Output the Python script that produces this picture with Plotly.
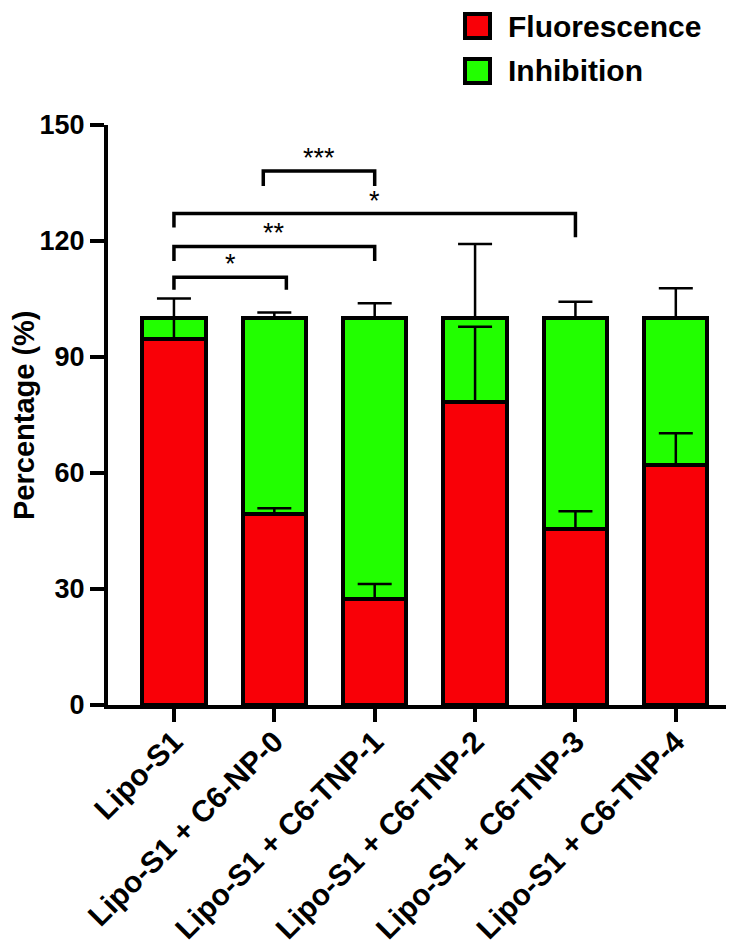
import plotly.graph_objects as go

# ---------------- data ----------------
categories = ["Lipo-S1", "Lipo-S1 + C6-NP-0", "Lipo-S1 + C6-TNP-1",
              "Lipo-S1 + C6-TNP-2", "Lipo-S1 + C6-TNP-3", "Lipo-S1 + C6-TNP-4"]
fluorescence = [94.7, 49.5, 27.5, 78.4, 45.5, 62.1]
fluorescence_sd = [5.6, 1.4, 3.8, 19.4, 4.6, 8.2]
inhibition = [5.3, 50.5, 72.5, 21.6, 54.5, 37.9]
inhibition_sd = [5.1, 1.5, 3.9, 19.2, 4.3, 7.8]
y_ticks = [0, 30, 60, 90, 120, 150]

# significance brackets: start group, end group, bar height, left leg end, right leg end, label
bracket_x0 = [0, 0, 0, 0.89]
bracket_x1 = [1.12, 2, 4, 2]
bracket_y = [110.6, 118.6, 127.1, 138.1]
bracket_left_end = [107.4, 114.8, 123.5, 134.2]
bracket_right_end = [107.4, 114.8, 121.0, 134.2]
bracket_label = ["*", "**", "*", "***"]

# ---------------- layout constants ----------------
W, H = 738, 944
ML, MR, MT, MB = 100, 20, 117, 247
PW, PH = W - ML - MR, H - MT - MB
FONT = "Liberation Sans, Arial, sans-serif"
RED = "#F90007"
GREEN = "#22FF00"


def px_x(px):
    return (px - ML) / PW


def px_y(py):
    return (H - MB - py) / PH


idx = list(range(len(categories)))
stack_top = [f + i for f, i in zip(fluorescence, inhibition)]

fig = go.Figure()
fig.add_trace(go.Bar(x=idx, y=fluorescence, name="Fluorescence", width=0.63,
                     marker=dict(color=RED, line=dict(color="black", width=4)),
                     showlegend=False))
fig.add_trace(go.Bar(x=idx, y=inhibition, name="Inhibition", width=0.63,
                     marker=dict(color=GREEN, line=dict(color="black", width=4)),
                     showlegend=False))

# error bars (upper only), drawn above the bars
fig.add_trace(go.Scatter(x=idx, y=fluorescence, mode="markers",
                         marker=dict(size=1, color="rgba(0,0,0,0)"),
                         error_y=dict(type="data", array=fluorescence_sd,
                                      arrayminus=[0] * len(idx), symmetric=False,
                                      color="black", thickness=2.5, width=17),
                         showlegend=False, hoverinfo="skip"))
fig.add_trace(go.Scatter(x=idx, y=stack_top, mode="markers",
                         marker=dict(size=1, color="rgba(0,0,0,0)"),
                         error_y=dict(type="data", array=inhibition_sd,
                                      arrayminus=[0] * len(idx), symmetric=False,
                                      color="black", thickness=2.5, width=17),
                         showlegend=False, hoverinfo="skip"))

# significance brackets
for x0, x1, yb, yl, yr, lab in zip(bracket_x0, bracket_x1, bracket_y,
                                   bracket_left_end, bracket_right_end, bracket_label):
    fig.add_trace(go.Scatter(x=[x0, x0, x1, x1], y=[yl, yb, yb, yr], mode="lines",
                             line=dict(color="black", width=3.5),
                             showlegend=False, hoverinfo="skip"))
    fig.add_annotation(x=(x0 + x1) / 2, y=yb, text=lab, showarrow=False,
                       yanchor="bottom", yshift=-4,
                       font=dict(family=FONT, size=27, color="black"))

# manual legend
legend_items = [("Fluorescence", RED, 4, 32), ("Inhibition", GREEN, 49, 77)]
for name, col, top, bot in legend_items:
    fig.add_shape(type="rect", xref="paper", yref="paper",
                  x0=px_x(457), x1=px_x(482), y0=px_y(bot - 2), y1=px_y(top + 2),
                  fillcolor=col, line=dict(color="black", width=4))
    fig.add_annotation(xref="paper", yref="paper", x=px_x(498), y=px_y((top + bot) / 2),
                       text=name, showarrow=False, xanchor="left", yanchor="middle",
                       font=dict(family=FONT, size=30, color="black", weight="bold"))

# y axis title
fig.add_annotation(xref="paper", yref="paper", x=px_x(16), y=0.5,
                   text="Percentage (%)", textangle=-90, showarrow=False,
                   xanchor="center", yanchor="middle",
                   font=dict(family=FONT, size=29, color="black", weight="bold"))

fig.update_layout(
    width=W, height=H, barmode="stack",
    margin=dict(l=ML, r=MR, t=MT, b=MB, autoexpand=False),
    paper_bgcolor="white", plot_bgcolor="white",
    showlegend=False,
    xaxis=dict(range=[-0.657, 5.5], tickvals=idx, ticktext=categories,
               tickangle=-45, ticks="outside", ticklen=13, tickwidth=3.5,
               tickcolor="black", showline=True, linewidth=4, linecolor="black",
               showgrid=False, zeroline=False, ticklabelstandoff=-10,
               automargin=False,
               tickfont=dict(family=FONT, size=30, color="black", weight="bold")),
    yaxis=dict(range=[0, 150], tickvals=y_ticks, ticks="outside", ticklen=14,
               tickwidth=4, tickcolor="black", showline=True, linewidth=4,
               linecolor="black", showgrid=False, zeroline=False,
               automargin=False,
               tickfont=dict(family=FONT, size=27, color="black", weight="bold")),
)

fig.write_html("out.html")
